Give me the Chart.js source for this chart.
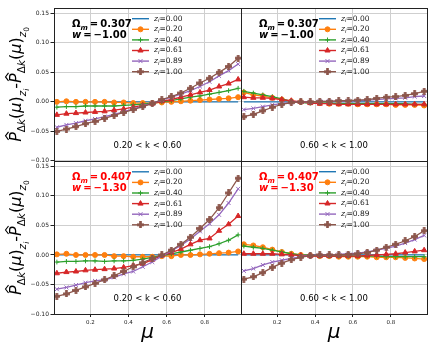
<!DOCTYPE html>
<html>
<head>
<meta charset="utf-8">
<script src="https://cdn.jsdelivr.net/npm/chart.js@4.4.1/dist/chart.umd.min.js"></script>
<style>
html, body { margin: 0; padding: 0; background: #fff; }
#wrap { position: relative; width: 436px; height: 349px; overflow: hidden; }
canvas { position: absolute; }
</style>
</head>
<body>
<div id="wrap">
  <canvas id="tl" width="246" height="166" style="left:0;top:0"></canvas>
  <canvas id="tr" width="196" height="166" style="left:236px;top:0"></canvas>
  <canvas id="bl" width="246" height="193" style="left:0;top:156px"></canvas>
  <canvas id="br" width="196" height="193" style="left:236px;top:156px"></canvas>
</div>
<script>
// mu bin centres
const mu = [0.025, 0.075, 0.125, 0.175, 0.225, 0.275, 0.325, 0.375, 0.425, 0.475,
            0.525, 0.575, 0.625, 0.675, 0.725, 0.775, 0.825, 0.875, 0.925, 0.975];
const zLabels = ['0.00', '0.20', '0.40', '0.61', '0.89', '1.00'];
const yTicks = [-0.10, -0.05, 0.00, 0.05, 0.10, 0.15];
const xTicks = [0.2, 0.4, 0.6, 0.8];

const zero = [0, 0, 0, 0, 0, 0, 0, 0, 0, 0, 0, 0, 0, 0, 0, 0, 0, 0, 0, 0];

// top left: Om=0.307, w=-1.00, 0.20<k<0.60
const tlZ020 = [0.000, 0.001, 0.000, 0.000, 0.000, 0.000, -0.001, -0.001, -0.002, -0.002, -0.002, -0.001, 0.000, 0.001, 0.002, 0.003, 0.004, 0.005, 0.006, 0.008];
const tlZ040 = [-0.009, -0.008, -0.008, -0.007, -0.007, -0.007, -0.007, -0.006, -0.005, -0.004, -0.002, 0.000, 0.002, 0.005, 0.008, 0.010, 0.013, 0.016, 0.019, 0.023];
const tlZ061 = [-0.022, -0.020, -0.019, -0.018, -0.017, -0.016, -0.014, -0.012, -0.009, -0.006, -0.003, 0.001, 0.004, 0.008, 0.012, 0.016, 0.020, 0.026, 0.031, 0.038];
const tlZ089 = [-0.043, -0.039, -0.036, -0.032, -0.029, -0.025, -0.021, -0.017, -0.012, -0.007, -0.002, 0.003, 0.008, 0.013, 0.019, 0.026, 0.034, 0.044, 0.053, 0.064];
const tlZ100 = [-0.050, -0.046, -0.042, -0.037, -0.033, -0.028, -0.023, -0.018, -0.013, -0.008, -0.003, 0.004, 0.009, 0.015, 0.023, 0.032, 0.040, 0.050, 0.060, 0.074];

// top right: Om=0.307, w=-1.00, 0.60<k<1.00
const trZ020 = [0.016, 0.012, 0.010, 0.007, 0.004, 0.001, 0.000, -0.001, -0.002, -0.003, -0.003, -0.003, -0.004, -0.004, -0.004, -0.004, -0.005, -0.005, -0.005, -0.006];
const trZ040 = [0.018, 0.015, 0.012, 0.009, 0.005, 0.001, -0.001, -0.002, -0.002, -0.002, -0.003, -0.003, -0.003, -0.003, -0.003, -0.003, -0.003, -0.003, -0.004, -0.004];
const trZ061 = [0.008, 0.007, 0.007, 0.006, 0.004, 0.002, 0.000, -0.002, -0.003, -0.003, -0.004, -0.004, -0.004, -0.004, -0.004, -0.004, -0.004, -0.004, -0.004, -0.004];
const trZ089 = [-0.013, -0.011, -0.008, -0.005, -0.003, -0.001, 0.000, 0.000, 0.001, 0.001, 0.001, 0.002, 0.002, 0.003, 0.004, 0.005, 0.006, 0.007, 0.009, 0.010];
const trZ100 = [-0.025, -0.021, -0.015, -0.009, -0.004, -0.001, 0.000, 0.000, 0.001, 0.001, 0.002, 0.002, 0.003, 0.004, 0.006, 0.008, 0.009, 0.011, 0.014, 0.018];

// bottom left: Om=0.407, w=-1.30, 0.20<k<0.60
const blZ020 = [0.001, 0.002, 0.000, 0.000, 0.000, 0.000, -0.002, -0.002, -0.003, -0.003, -0.003, -0.002, -0.002, 0.000, 0.000, 0.001, 0.002, 0.003, 0.004, 0.006];
const blZ040 = [-0.012, -0.011, -0.011, -0.010, -0.010, -0.011, -0.010, -0.010, -0.009, -0.007, -0.004, -0.001, 0.002, 0.005, 0.008, 0.011, 0.014, 0.019, 0.025, 0.034];
const blZ061 = [-0.031, -0.029, -0.028, -0.026, -0.025, -0.024, -0.023, -0.021, -0.018, -0.015, -0.008, -0.001, 0.004, 0.010, 0.018, 0.025, 0.028, 0.041, 0.052, 0.066];
const blZ089 = [-0.058, -0.055, -0.051, -0.047, -0.044, -0.042, -0.038, -0.032, -0.028, -0.020, -0.012, -0.002, 0.007, 0.016, 0.027, 0.040, 0.053, 0.068, 0.088, 0.112];
const blZ100 = [-0.070, -0.066, -0.060, -0.054, -0.048, -0.042, -0.035, -0.028, -0.020, -0.013, -0.006, 0.000, 0.008, 0.018, 0.030, 0.045, 0.060, 0.080, 0.105, 0.130];

// bottom right: Om=0.407, w=-1.30, 0.60<k<1.00
const brZ020 = [0.018, 0.016, 0.013, 0.009, 0.005, 0.002, 0.000, -0.001, -0.002, -0.002, -0.003, -0.003, -0.003, -0.003, -0.004, -0.004, -0.004, -0.005, -0.006, -0.007];
const brZ040 = [0.015, 0.013, 0.011, 0.008, 0.005, 0.002, 0.000, -0.001, -0.002, -0.002, -0.002, -0.002, -0.002, -0.002, -0.002, -0.003, -0.003, -0.003, -0.003, -0.003];
const brZ061 = [0.002, 0.002, 0.002, 0.002, 0.001, 0.000, -0.001, -0.002, -0.002, -0.002, -0.002, -0.002, -0.002, -0.001, 0.000, 0.001, 0.002, 0.004, 0.006, 0.008];
const brZ089 = [-0.027, -0.023, -0.017, -0.012, -0.009, -0.006, -0.003, -0.001, 0.000, 0.000, 0.001, 0.002, 0.003, 0.005, 0.008, 0.011, 0.015, 0.020, 0.026, 0.033];
const brZ100 = [-0.041, -0.037, -0.030, -0.021, -0.014, -0.008, -0.004, -0.001, 0.000, 0.000, 0.000, 0.001, 0.002, 0.004, 0.008, 0.013, 0.018, 0.024, 0.031, 0.041];

const colors = ['#1f77b4', '#ff7f0e', '#2ca02c', '#d62728', '#9467bd', '#8c564b'];
const FONT = '"DejaVu Sans"';

Chart.defaults.font.family = FONT;
Chart.defaults.color = '#222';

// filled plus marker for the last series
function plusMarker(color, s) {
    const c = document.createElement('canvas');
    c.width = s; c.height = s;
    const g = c.getContext('2d');
    const t = s * 0.38, m = (s - t) / 2;
    g.fillStyle = color;
    g.fillRect(m, 0, t, s);
    g.fillRect(0, m, s, t);
    g.beginPath();
    g.arc(s / 2, s / 2, s * 0.3, 0, Math.PI * 2);
    g.fill();
    return c;
}

const markers = [
    { pointStyle: false, radius: 0 },
    { pointStyle: 'circle', radius: 2.5, borderWidth: 1 },
    { pointStyle: 'cross', radius: 2.4, borderWidth: 1 },
    { pointStyle: 'triangle', radius: 3, borderWidth: 1 },
    { pointStyle: 'crossRot', radius: 2.8, borderWidth: 1 },
    { pointStyle: plusMarker(colors[5], 7), radius: 3.5, borderWidth: 0 },
];

function drawMark(ctx, m, x, y, color) {
    if (!m.pointStyle) return;
    ctx.fillStyle = color;
    ctx.strokeStyle = color;
    ctx.lineWidth = m.borderWidth;
    if (Chart.helpers && Chart.helpers.drawPoint) {
        Chart.helpers.drawPoint(ctx, { pointStyle: m.pointStyle, radius: m.radius, borderWidth: m.borderWidth, rotation: 0 }, x, y);
    } else if (m.pointStyle instanceof HTMLCanvasElement) {
        ctx.drawImage(m.pointStyle, x - m.pointStyle.width / 2, y - m.pointStyle.height / 2);
    } else {
        ctx.beginPath(); ctx.arc(x, y, m.radius, 0, Math.PI * 2); ctx.fill();
    }
}

function drawYLabel(ctx, cx, cy) {
    const big = 16, sub = 10.5, sub2 = 7.5;
    const F = (sz, it) => (it ? 'italic ' : '') + sz + 'px ' + FONT;
    const parts = [];
    const term = z => {
        parts.push({ t: 'P', f: F(big, true), dy: 0, hat: true });
        parts.push({ t: 'Δ', f: F(sub, false), dy: 4 });
        parts.push({ t: 'k', f: F(sub, true), dy: 4 });
        parts.push({ t: '(', f: F(big, false), dy: 0 });
        parts.push({ t: 'μ', f: F(big, true), dy: 0 });
        parts.push({ t: ')', f: F(big, false), dy: 0 });
        parts.push({ t: 'z', f: F(sub, true), dy: 5 });
        parts.push({ t: z, f: F(sub2, z === 'i'), dy: 8 });
    };
    term('i');
    parts.push({ t: '-', f: F(big, false), dy: 0 });
    term('0');
    let total = 0;
    parts.forEach(p => { ctx.font = p.f; p.w = ctx.measureText(p.t).width; total += p.w; });
    ctx.save();
    ctx.translate(cx, cy);
    ctx.rotate(-Math.PI / 2);
    ctx.fillStyle = '#000';
    ctx.strokeStyle = '#000';
    ctx.textAlign = 'left';
    ctx.textBaseline = 'alphabetic';
    let x = -total / 2;
    const base = 5;
    parts.forEach(p => {
        ctx.font = p.f;
        ctx.fillText(p.t, x, base + p.dy);
        if (p.hat) {
            const hx = x + p.w * 0.62, hy = base - big * 0.78;
            ctx.lineWidth = 1.1;
            ctx.beginPath();
            ctx.moveTo(hx - 4, hy);
            ctx.lineTo(hx, hy - 3);
            ctx.lineTo(hx + 4, hy);
            ctx.stroke();
        }
        x += p.w;
    });
    ctx.restore();
}

const panelText = {
    id: 'panelText',
    afterDraw(chart, args, o) {
        const { ctx, chartArea: a } = chart;
        ctx.save();
        // frame
        ctx.strokeStyle = '#222';
        ctx.lineWidth = 1;
        const L = Math.round(a.left) + 0.5, R = Math.round(a.right) + 0.5;
        const T = Math.round(a.top) + 0.5, B = Math.round(a.bottom) + 0.5;
        ctx.strokeRect(L, T, R - L, B - T);

        // cosmology parameters
        ctx.fillStyle = o.color;
        ctx.textAlign = 'left';
        ctx.textBaseline = 'alphabetic';
        let x = a.left + 18;
        const y1 = a.top + 19, y2 = a.top + 30;
        ctx.font = 'bold 10px ' + FONT;
        ctx.fillText('Ω', x, y1);
        x += ctx.measureText('Ω').width;
        ctx.font = 'bold italic 7px ' + FONT;
        ctx.fillText('m', x, y1 + 2.5);
        x += ctx.measureText('m').width;
        ctx.font = 'bold 10px ' + FONT;
        ctx.fillText('\u2009=\u2009' + o.om, x, y1);
        x = a.left + 18;
        ctx.font = 'bold italic 10px ' + FONT;
        ctx.fillText('w', x, y2);
        x += ctx.measureText('w').width;
        ctx.font = 'bold 10px ' + FONT;
        ctx.fillText('\u2009=\u2009\u2212' + o.w, x, y2);

        // legend
        chart.data.datasets.forEach((ds, i) => {
            const ry = a.top + 10.7 + 10.6 * i;
            const lx = a.left + 78;
            ctx.strokeStyle = ds.borderColor;
            ctx.lineWidth = 1.4;
            ctx.beginPath();
            ctx.moveTo(lx, ry);
            ctx.lineTo(lx + 17, ry);
            ctx.stroke();
            drawMark(ctx, markers[i], lx + 8.5, ry, ds.borderColor);
            ctx.fillStyle = '#222';
            ctx.textBaseline = 'middle';
            let tx = lx + 22;
            ctx.font = 'italic 7.5px ' + FONT;
            ctx.fillText('z', tx, ry);
            tx += ctx.measureText('z').width;
            ctx.font = 'italic 5.5px ' + FONT;
            ctx.fillText('i', tx, ry + 2);
            tx += ctx.measureText('i').width;
            ctx.font = '7.5px ' + FONT;
            ctx.fillText('=' + zLabels[i], tx, ry);
        });

        // k range
        ctx.fillStyle = '#000';
        ctx.font = '8.5px ' + FONT;
        ctx.textAlign = 'center';
        ctx.textBaseline = 'middle';
        ctx.fillText(o.krange, (a.left + a.right) / 2, a.bottom - 15);

        if (o.ylabel) drawYLabel(ctx, 16, (a.top + a.bottom) / 2);
        ctx.restore();
    }
};

function makePanel(id, series, o) {
    const datasets = series.map((vals, i) => ({
        label: 'z=' + zLabels[i],
        data: mu.map((m, j) => ({ x: m, y: vals[j] })),
        borderColor: colors[i],
        backgroundColor: colors[i],
        pointBackgroundColor: colors[i],
        pointBorderColor: colors[i],
        borderWidth: 1.3,
        pointStyle: markers[i].pointStyle,
        pointRadius: markers[i].radius,
        pointBorderWidth: markers[i].borderWidth,
        tension: 0,
        order: 5 - i,
    }));
    const left = o.side === 'left', bottom = o.row === 'bottom';
    new Chart(document.getElementById(id), {
        type: 'line',
        data: { datasets },
        plugins: [panelText],
        options: {
            responsive: false,
            animation: false,
            devicePixelRatio: 1,
            layout: {
                autoPadding: false,
                padding: { left: left ? 0 : 5, right: 5, top: bottom ? 5 : 8, bottom: bottom ? 0 : 5 },
            },
            plugins: {
                legend: { display: false },
                tooltip: { enabled: false },
                panelText: { om: o.om, w: o.w, color: o.color, krange: o.krange, ylabel: left },
            },
            scales: {
                x: {
                    type: 'linear',
                    min: 0.01,
                    max: 0.99,
                    border: { display: false },
                    grid: { color: '#cfcfcf', lineWidth: 1, drawTicks: bottom, tickLength: 3, tickColor: '#222' },
                    ticks: {
                        display: bottom,
                        font: { size: 5.5 },
                        padding: 2,
                        maxRotation: 0,
                        callback: v => v.toFixed(1),
                    },
                    afterBuildTicks: s => { s.ticks = xTicks.map(v => ({ value: v })); },
                    title: {
                        display: bottom,
                        text: 'μ',
                        color: '#000',
                        font: { size: 20, style: 'italic' },
                        padding: { top: 0, bottom: 4 },
                    },
                    afterFit: s => { s.height = bottom ? 35 : 0; },
                },
                y: {
                    type: 'linear',
                    min: -0.10,
                    max: 0.159,
                    border: { display: false },
                    grid: { color: '#cfcfcf', lineWidth: 1, drawTicks: left, tickLength: 3.5, tickColor: '#222' },
                    ticks: {
                        display: left,
                        font: { size: 6 },
                        padding: 1.5,
                        callback: v => (v < -1e-9 ? '\u2212' : '') + Math.abs(v).toFixed(2),
                    },
                    afterBuildTicks: s => { s.ticks = yTicks.map(v => ({ value: v })); },
                    afterFit: s => { s.width = left ? 54 : 0; },
                },
            },
        },
    });
}

makePanel('tl', [zero, tlZ020, tlZ040, tlZ061, tlZ089, tlZ100],
    { side: 'left', row: 'top', om: '0.307', w: '1.00', color: '#000', krange: '0.20 < k < 0.60' });
makePanel('tr', [zero, trZ020, trZ040, trZ061, trZ089, trZ100],
    { side: 'right', row: 'top', om: '0.307', w: '1.00', color: '#000', krange: '0.60 < k < 1.00' });
makePanel('bl', [zero, blZ020, blZ040, blZ061, blZ089, blZ100],
    { side: 'left', row: 'bottom', om: '0.407', w: '1.30', color: '#ff0000', krange: '0.20 < k < 0.60' });
makePanel('br', [zero, brZ020, brZ040, brZ061, brZ089, brZ100],
    { side: 'right', row: 'bottom', om: '0.407', w: '1.30', color: '#ff0000', krange: '0.60 < k < 1.00' });
</script>
</body>
</html>
